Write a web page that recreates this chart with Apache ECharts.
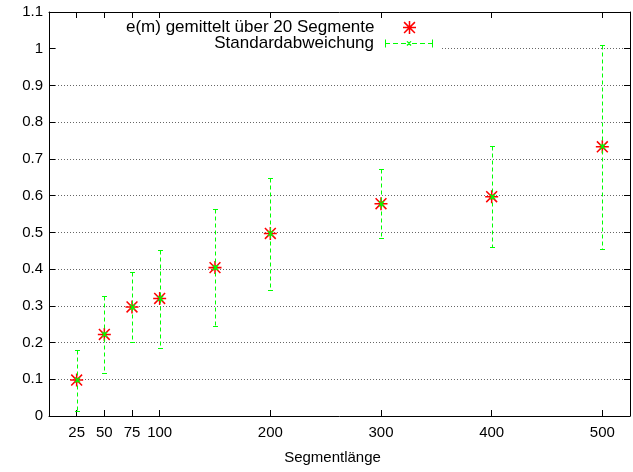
<!DOCTYPE html>
<html>
<head>
<meta charset="utf-8">
<script src="https://cdn.jsdelivr.net/npm/echarts@6/dist/echarts.min.js"></script>
<style>html,body{margin:0;padding:0;background:#fff}#c{width:633px;height:472px}</style>
</head>
<body>
<div id="c"></div>
<script>
const segLen   = [25, 50, 75, 100, 150, 200, 300, 400, 500];
const meanErr  = [0.098, 0.222, 0.297, 0.320, 0.404, 0.497, 0.578, 0.597, 0.733];
const stdLow   = [0.013, 0.118, 0.202, 0.186, 0.246, 0.344, 0.485, 0.459, 0.455];
const stdHigh  = [0.181, 0.326, 0.391, 0.452, 0.563, 0.649, 0.672, 0.735, 1.009];
const xTicks   = [25, 50, 75, 100, 200, 300, 400, 500];
const nameMean = 'e(m) gemittelt über 20 Segmente';
const nameStd  = 'Standardabweichung';
const xTitle   = 'Segmentlänge';

const FONT = 'Liberation Sans, Arial, Helvetica, sans-serif';
const RED = '#ff0000', GREEN = '#00ff00';

const starPath = 'path://M0 5.3L12 5.3L12 6.7L0 6.7Z M5.3 0L6.7 0L6.7 12L5.3 12Z M0.5 1.5L1.5 0.5L11.5 10.5L10.5 11.5Z M10.5 0.5L11.5 1.5L1.5 11.5L0.5 10.5Z';
const errIconPath = 'path://M0 0L1 0L1 8L0 8Z M47 0L48 0L48 8L47 8Z M0 3.5L5 3.5L5 4.5L0 4.5Z M8 3.5L13 3.5L13 4.5L8 4.5Z M16 3.5L21 3.5L21 4.5L16 4.5Z M27 3.5L32 3.5L32 4.5L27 4.5Z M35 3.5L40 3.5L40 4.5L35 4.5Z M43 3.5L48 3.5L48 4.5L43 4.5Z M21.5 2L22.5 1.5L26.5 5.5L25.5 6.5Z M25.5 1.5L26.5 2L22.5 6.5L21.5 5.5Z';

const errData = segLen.map((x, i) => [x, meanErr[i], stdLow[i], stdHigh[i]]);
const meanData = segLen.map((x, i) => [x, meanErr[i]]);

const chart = echarts.init(document.getElementById('c'), null, {renderer: 'canvas'});

function fmtY(v) { return String(parseFloat(Number(v).toFixed(1))); }

const axisLineStyle = {color: '#000', width: 1};

chart.setOption({
  backgroundColor: '#fff',
  animation: false,
  grid: {left: 49, right: 3, top: 12, bottom: 56, containLabel: false},
  graphic: [{
    type: 'rect', z: 1, silent: true,
    shape: {x: 58, y: 19, width: 384, height: 33},
    style: {fill: '#fff'}
  }],
  legend: [{
    data: [{name: nameMean, icon: starPath}],
    orient: 'vertical', align: 'right', right: 217, top: 19, padding: 0,
    itemWidth: 48, itemHeight: 13, selectedMode: false,
    textStyle: {fontFamily: FONT, fontSize: 17, color: '#000', padding: [0, 6, 0, 0]}
  }, {
    data: [{name: nameStd, icon: errIconPath, itemStyle: {color: GREEN}}],
    orient: 'vertical', align: 'right', right: 200, top: 35, padding: 0,
    itemWidth: 48, itemHeight: 9, selectedMode: false,
    textStyle: {fontFamily: FONT, fontSize: 17, color: '#000', padding: [0, 6, 0, 0]}
  }],
  xAxis: [{
    type: 'value', position: 'bottom', min: 0, max: 525,
    name: xTitle, nameLocation: 'middle', nameGap: 34,
    nameTextStyle: {fontFamily: FONT, fontSize: 15, color: '#000', padding: [0, 14, 0, 0]},
    axisLine: {show: true, onZero: false, lineStyle: axisLineStyle},
    axisTick: {show: true, inside: true, length: 6, customValues: xTicks, lineStyle: {color: '#000'}},
    axisLabel: {show: true, customValues: xTicks, margin: 9, fontFamily: FONT, fontSize: 15, color: '#000'},
    splitLine: {show: false}
  }, {
    type: 'value', position: 'top', min: 0, max: 525,
    axisLine: {show: true, onZero: false, lineStyle: axisLineStyle},
    axisTick: {show: true, inside: true, length: 6, customValues: xTicks, lineStyle: {color: '#000'}},
    axisLabel: {show: false, customValues: xTicks},
    splitLine: {show: false}
  }],
  yAxis: [{
    type: 'value', position: 'left', min: 0, max: 1.1, interval: 0.1,
    axisLine: {show: true, onZero: false, lineStyle: axisLineStyle},
    axisTick: {show: true, inside: true, length: 6, lineStyle: {color: '#000'}},
    axisLabel: {show: true, margin: 6, fontFamily: FONT, fontSize: 15, color: '#000',
      formatter: v => fmtY(v)},
    splitLine: {show: true, lineStyle: {color: '#666', width: 1, type: [1, 2]}}
  }, {
    type: 'value', position: 'right', min: 0, max: 1.1, interval: 0.1,
    axisLine: {show: true, onZero: false, lineStyle: axisLineStyle},
    axisTick: {show: true, inside: true, length: 6, lineStyle: {color: '#000'}},
    axisLabel: {show: false},
    splitLine: {show: false}
  }],
  series: [{
    name: nameMean, type: 'scatter', xAxisIndex: 0, yAxisIndex: 0,
    symbol: starPath, symbolSize: 13, z: 2,
    itemStyle: {color: RED, opacity: 1},
    data: meanData
  }, {
    name: nameStd, type: 'custom', xAxisIndex: 0, yAxisIndex: 0, z: 3,
    itemStyle: {color: GREEN},
    encode: {x: 0, y: 1},
    renderItem: function (params, api) {
      const x = api.value(0), m = api.value(1), lo = api.value(2), hi = api.value(3);
      const pLo = api.coord([x, lo]), pHi = api.coord([x, hi]), pM = api.coord([x, m]);
      const px = Math.round(pLo[0]) + 0.5;
      const yLo = Math.round(pLo[1]) + 0.5, yHi = Math.round(pHi[1]) + 0.5;
      const st = {stroke: GREEN, lineWidth: 1};
      const dash = {stroke: GREEN, lineWidth: 1, lineDash: [4, 3]};
      const s = 2.5;
      return {
        type: 'group',
        children: [
          {type: 'line', shape: {x1: px, y1: yHi, x2: px, y2: yLo}, style: dash},
          {type: 'line', shape: {x1: px - 2.5, y1: yLo, x2: px + 2.5, y2: yLo}, style: st},
          {type: 'line', shape: {x1: px - 2.5, y1: yHi, x2: px + 2.5, y2: yHi}, style: st},
          {type: 'line', shape: {x1: px - s, y1: pM[1] - s, x2: px + s, y2: pM[1] + s}, style: {stroke: GREEN, lineWidth: 1.5}},
          {type: 'line', shape: {x1: px - s, y1: pM[1] + s, x2: px + s, y2: pM[1] - s}, style: {stroke: GREEN, lineWidth: 1.5}}
        ]
      };
    },
    data: errData
  }]
});
</script>
</body>
</html>
